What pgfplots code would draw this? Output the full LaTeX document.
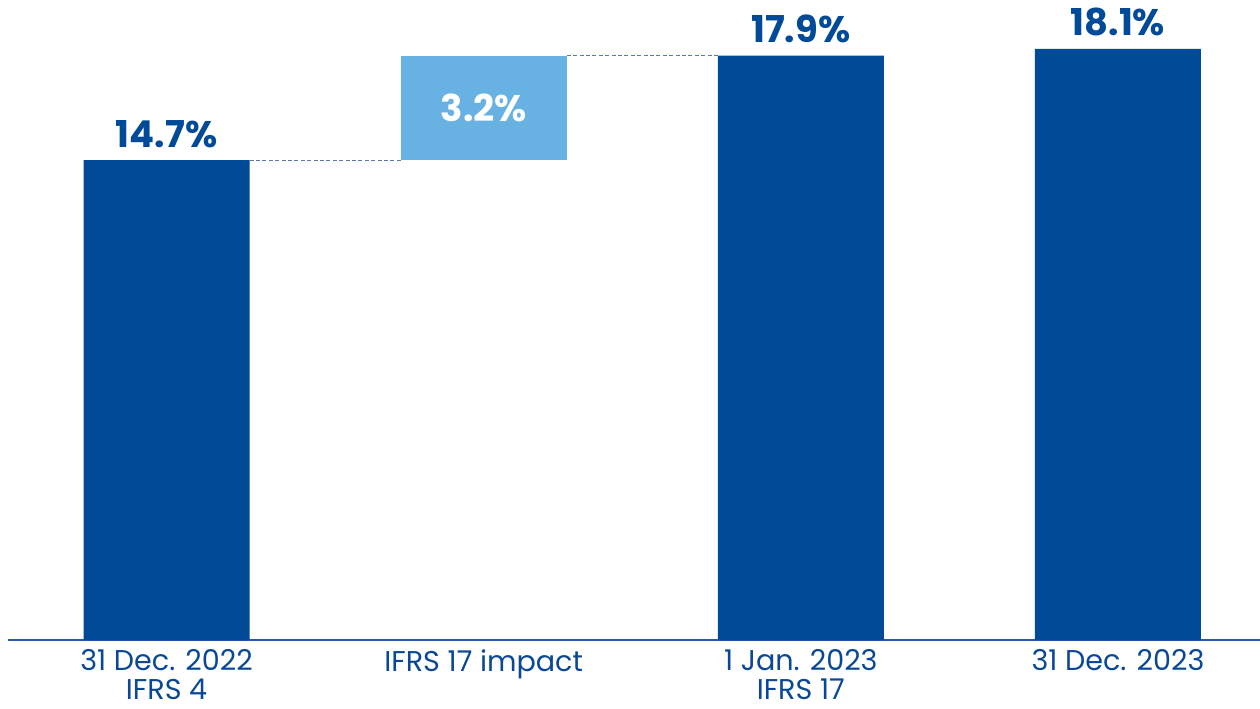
\documentclass[border=0pt]{standalone}
\usepackage{fontspec}
\setmainfont{Poppins}
\usepackage{pgfplots}
\pgfplotsset{compat=1.18}
\definecolor{darkb}{RGB}{0,74,152}
\definecolor{lightb}{RGB}{103,178,226}
\definecolor{axb}{RGB}{40,90,165}
\definecolor{txtb}{RGB}{10,72,150}
\definecolor{dashb}{RGB}{90,120,170}
\begin{document}
\begin{tikzpicture}
\begin{axis}[
  scale only axis,
  width=626pt, height=320pt,
  xmin=-0.5, xmax=3.448,
  ymin=0, ymax=19.6,
  clip=false,
  axis x line*=bottom,
  axis y line=none,
  x axis line style={draw=axb, line width=1pt, -},
  xtick={0,1,2,3},
  xticklabels={{31 Dec. 2022\\IFRS 4},{IFRS 17 impact},{1 Jan. 2023\\IFRS 17},{31 Dec. 2023}},
  xtick style={draw=none},
  xticklabel style={align=center, inner sep=1pt, font=\fontsize{14.3}{14.6}\selectfont, text=txtb, yshift=-3.6pt},
]
% floating bar (IFRS 17 impact: 14.7 -> 17.9)
\addplot[draw=none, fill=lightb] coordinates {(0.738,14.7) (1.262,14.7) (1.262,17.9) (0.738,17.9)} -- cycle;
% dark bars
\addplot[ybar, bar width=83pt, bar shift=0pt, draw=none, fill=darkb,
  point meta=explicit symbolic,
  nodes near coords,
  every node near coord/.append style={anchor=base, yshift=6.5pt, inner sep=0pt, font=\fontsize{18.5}{20}\selectfont\bfseries, text=darkb}]
  coordinates {(0,14.7) [14.7\%] (2,17.9) [17.9\%] (3,18.1) [18.1\%]};
\node[font=\fontsize{18.5}{20}\selectfont\bfseries, text=white] at (axis cs:1,16.3) {3.2\%};
\draw[dashb, line width=0.5pt, dash pattern=on 2pt off 1.2pt] (axis cs:0.262,14.7) -- (axis cs:0.738,14.7);
\draw[dashb, line width=0.5pt, dash pattern=on 2pt off 1.2pt] (axis cs:1.262,17.9) -- (axis cs:1.738,17.9);
\end{axis}
\pgfresetboundingbox
\path[use as bounding box] (-4pt,-34pt) rectangle (626pt,320pt);
\end{tikzpicture}
\end{document}
